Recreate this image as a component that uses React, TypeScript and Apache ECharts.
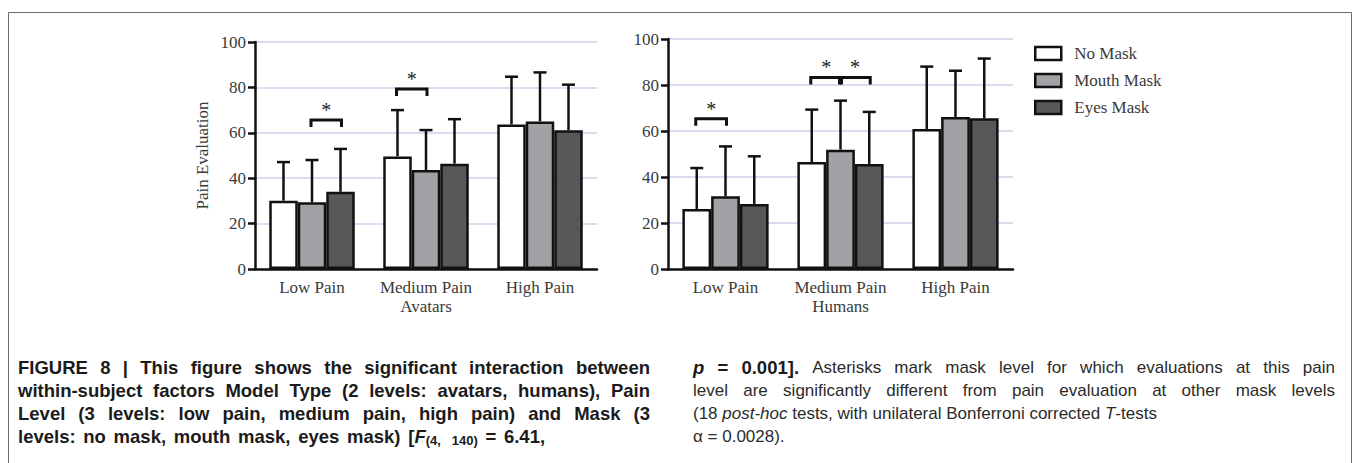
import React, { useEffect, useRef } from 'react';
import * as echarts from 'echarts';

// ---------- data ----------
const categories = ['Low Pain', 'Medium Pain', 'High Pain'];
const maskNames = ['No Mask', 'Mouth Mask', 'Eyes Mask'];
const yMin = 0;
const yMax = 100;
const yInterval = 20;

// Avatars: mean pain evaluation per mask (bars) and upper end of error bar
const avatarsNoMask = [30.1, 49.6, 63.7];
const avatarsMouthMask = [29.4, 43.6, 65.0];
const avatarsEyesMask = [34.0, 46.4, 61.1];
const avatarsNoMaskErrTop = [47.1, 70.0, 84.7];
const avatarsMouthMaskErrTop = [48.0, 61.2, 86.6];
const avatarsEyesMaskErrTop = [52.9, 66.0, 81.2];

// Humans
const humansNoMask = [26.1, 46.5, 60.9];
const humansMouthMask = [31.6, 51.9, 66.1];
const humansEyesMask = [28.3, 45.7, 65.5];
const humansNoMaskErrTop = [43.9, 69.3, 88.0];
const humansMouthMaskErrTop = [53.3, 73.2, 86.2];
const humansEyesMaskErrTop = [49.0, 68.3, 91.5];

// significance brackets: [category index, from mask index, to mask index, bracket level]
const avatarsBrackets = [
  [0, 1, 2, 65.6],
  [1, 0, 1, 79.3],
];
const humansBrackets = [
  [0, 0, 1, 65.3],
  [1, 0, 1, 83.3],
  [1, 1, 2, 83.3],
];

const xTitleLeft = 'Avatars';
const xTitleRight = 'Humans';
const yTitle = 'Pain Evaluation';

type Run = [string, string];
const captionLeft: { runs: Run[]; justify: boolean }[] = [
  { runs: [['FIGURE 8 | This figure shows the significant interaction between', 'b']], justify: true },
  { runs: [['within-subject factors Model Type (2 levels: avatars, humans), Pain', 'b']], justify: true },
  { runs: [['Level (3 levels: low pain, medium pain, high pain) and Mask (3', 'b']], justify: true },
  {
    runs: [
      ['levels: no mask, mouth mask, eyes mask) [', 'b'],
      ['F', 'bi'],
      ['(4,  140)', 'sub'],
      [' = 6.41,', 'b'],
    ],
    justify: false,
  },
];
const captionRight: { runs: Run[]; justify: boolean }[] = [
  {
    runs: [
      ['p', 'bi'],
      [' = 0.001].', 'b'],
      [' Asterisks mark mask level for which evaluations at this pain', 'r'],
    ],
    justify: true,
  },
  { runs: [['level are significantly different from pain evaluation at other mask levels', 'r']], justify: true },
  {
    runs: [
      ['(18 ', 'r'],
      ['post-hoc', 'i'],
      [' tests, with unilateral Bonferroni corrected ', 'r'],
      ['T', 'i'],
      ['-tests', 'r'],
    ],
    justify: false,
  },
  { runs: [['α = 0.0028).', 'r']], justify: false },
];

// ---------- styles ----------
const SERIF = '"Liberation Serif", "Times New Roman", serif';
const SANS = '"Liberation Sans", Arial, sans-serif';
const AXIS_TEXT = '#3a3a3a';
const INK = '#111111';
const barColors = ['#ffffff', '#a2a2a6', '#58585a'];
const CAT_GAP = 0.25;

const capStyles: Record<string, { size: number; weight: string; style: string; fill: string; dy: number; space: number }> = {
  b: { size: 18.5, weight: 'bold', style: 'normal', fill: '#1b1b1b', dy: 0, space: 1.5 },
  bi: { size: 18.5, weight: 'bold', style: 'italic', fill: '#1b1b1b', dy: 0, space: 1.5 },
  r: { size: 17, weight: 'normal', style: 'normal', fill: '#2b2b2b', dy: 0, space: 1 },
  i: { size: 17, weight: 'normal', style: 'italic', fill: '#2b2b2b', dy: 0, space: 1 },
  sub: { size: 13, weight: 'bold', style: 'normal', fill: '#1b1b1b', dy: 4, space: 1.5 },
};

function buildCaption(
  lines: { runs: Run[]; justify: boolean }[],
  x0: number,
  width: number,
  yStart: number,
  lineH: number
) {
  const canvas = document.createElement('canvas');
  const ctx = canvas.getContext('2d') as CanvasRenderingContext2D;
  const fontOf = (k: string) => {
    const s = capStyles[k];
    return `${s.style} ${s.weight} ${s.size}px ${SANS}`;
  };
  const measure = (t: string, k: string) => {
    ctx.font = fontOf(k);
    return ctx.measureText(t).width;
  };
  const els: any[] = [];
  lines.forEach((line, li) => {
    type Word = { parts: { t: string; s: string }[]; space: { s: string; n: number } | null };
    const words: Word[] = [];
    let cur: Word | null = null;
    let pending: { s: string; n: number } | null = null;
    for (const [text, s] of line.runs) {
      const re = /(\s+)|([^\s]+)/g;
      let m: RegExpExecArray | null;
      while ((m = re.exec(text))) {
        if (m[1]) {
          pending = { s, n: m[1].length };
          cur = null;
        } else {
          if (cur && !pending) cur.parts.push({ t: m[2], s });
          else {
            cur = { parts: [{ t: m[2], s }], space: pending };
            words.push(cur);
          }
          pending = null;
        }
      }
    }
    const wordW = words.map((w) => w.parts.reduce((a, p) => a + measure(p.t, p.s), 0));
    const total = wordW.reduce((a, b) => a + b, 0);
    const gap = words.length > 1 ? (width - total) / (words.length - 1) : 0;
    const y = yStart + li * lineH;
    let x = x0;
    words.forEach((w, wi) => {
      if (wi > 0) {
        if (line.justify) x += gap;
        else if (w.space) x += measure(' ', w.space.s) * w.space.n * capStyles[w.space.s].space;
      }
      w.parts.forEach((p) => {
        const st = capStyles[p.s];
        els.push({
          type: 'text',
          x,
          y: y + st.dy,
          silent: true,
          style: {
            text: p.t,
            fontSize: st.size,
            fontWeight: st.weight,
            fontStyle: st.style,
            fontFamily: SANS,
            fill: st.fill,
            align: 'left',
            verticalAlign: 'middle',
          },
        });
        x += measure(p.t, p.s);
      });
    });
  });
  return els;
}

function barSeries(name: string, idx: number, data: number[], grid: number) {
  return {
    type: 'bar',
    name,
    xAxisIndex: grid,
    yAxisIndex: grid,
    data,
    barGap: '0%',
    barCategoryGap: CAT_GAP * 100 + '%',
    itemStyle: { color: barColors[idx], borderColor: INK, borderWidth: 2.5 },
    emphasis: { disabled: true },
    z: 2,
  };
}

function errorSeries(grid: number, means: number[][], tops: number[][]) {
  const data: number[][] = [];
  means.forEach((arr, si) => arr.forEach((v, ci) => data.push([ci, si, v, tops[si][ci]])));
  return {
    type: 'custom',
    xAxisIndex: grid,
    yAxisIndex: grid,
    data,
    encode: { x: 0, y: [2, 3] },
    silent: true,
    z: 3,
    renderItem: (params: any, api: any) => {
      const ci = api.value(0);
      const si = api.value(1);
      const v = api.value(2);
      const e = api.value(3);
      const band = api.size([1, 0])[0];
      const barW = (band * (1 - CAT_GAP)) / 3;
      const p0 = api.coord([ci, v]);
      const p1 = api.coord([ci, e]);
      const x = p0[0] + (si - 1) * barW;
      const st = { stroke: INK, lineWidth: 2.5 };
      return {
        type: 'group',
        children: [
          { type: 'line', shape: { x1: x, y1: p0[1], x2: x, y2: p1[1] }, style: st },
          { type: 'line', shape: { x1: x - 6.5, y1: p1[1], x2: x + 6.5, y2: p1[1] }, style: st },
        ],
      };
    },
  };
}

function bracketSeries(grid: number, brackets: number[][]) {
  return {
    type: 'custom',
    xAxisIndex: grid,
    yAxisIndex: grid,
    data: brackets,
    encode: { x: 0, y: 3 },
    silent: true,
    z: 4,
    renderItem: (params: any, api: any) => {
      const ci = api.value(0);
      const a = api.value(1);
      const b = api.value(2);
      const v = api.value(3);
      const band = api.size([1, 0])[0];
      const barW = (band * (1 - CAT_GAP)) / 3;
      const c = api.coord([ci, v]);
      const x1 = c[0] + (a - 1) * barW - 1;
      const x2 = c[0] + (b - 1) * barW + 1;
      const y = c[1];
      return {
        type: 'group',
        children: [
          {
            type: 'polyline',
            shape: { points: [[x1, y + 7], [x1, y], [x2, y], [x2, y + 7]] },
            style: { stroke: INK, lineWidth: 3, fill: null },
          },
          {
            type: 'text',
            x: (x1 + x2) / 2,
            y: y - 10,
            style: {
              text: '*',
              fontSize: 20,
              fontFamily: SERIF,
              fill: '#222',
              align: 'center',
              verticalAlign: 'middle',
            },
          },
        ],
      };
    },
  };
}

function xAxis(grid: number, title: string) {
  return {
    type: 'category',
    gridIndex: grid,
    data: categories,
    name: title,
    nameLocation: 'middle',
    nameGap: 29,
    nameTextStyle: { fontFamily: SERIF, fontSize: 17, color: AXIS_TEXT },
    axisLine: { lineStyle: { color: INK, width: 2.5 } },
    axisTick: { alignWithLabel: true, length: 6, lineStyle: { color: INK, width: 2.5 } },
    axisLabel: { interval: 0, fontFamily: SERIF, fontSize: 17, color: AXIS_TEXT, margin: 10 },
    splitLine: { show: false },
  };
}

function yAxis(grid: number, title: string) {
  return {
    type: 'value',
    gridIndex: grid,
    min: yMin,
    max: yMax,
    interval: yInterval,
    name: title,
    nameLocation: 'middle',
    nameGap: 44,
    nameRotate: 90,
    nameTextStyle: { fontFamily: SERIF, fontSize: 17, color: AXIS_TEXT },
    axisLine: { show: true, lineStyle: { color: INK, width: 2.5 } },
    axisTick: { show: true, length: 7, lineStyle: { color: INK, width: 2.5 } },
    axisLabel: { fontFamily: SERIF, fontSize: 17, color: AXIS_TEXT, margin: 9 },
    splitLine: { show: true, lineStyle: { color: '#dcdcf0', width: 2 } },
  };
}

export default function App() {
  const ref = useRef<HTMLDivElement>(null);
  useEffect(() => {
    if (!ref.current) return;
    const chart = echarts.init(ref.current, undefined, { renderer: 'svg' });
    const caption = [
      ...buildCaption(captionLeft, 18, 632, 367, 23.3),
      ...buildCaption(captionRight, 693, 642, 367, 23.3),
    ];
    chart.setOption({
      animation: false,
      backgroundColor: '#ffffff',
      grid: [
        { left: 255, top: 42, width: 342, height: 227, containLabel: false },
        { left: 668, top: 39, width: 345, height: 230, containLabel: false },
      ],
      xAxis: [xAxis(0, xTitleLeft), xAxis(1, xTitleRight)],
      yAxis: [yAxis(0, yTitle), yAxis(1, '')],
      legend: {
        data: maskNames,
        orient: 'vertical',
        left: 1034,
        top: 45,
        padding: 0,
        icon: 'rect',
        itemWidth: 26,
        itemHeight: 13,
        itemGap: 10,
        selectedMode: false,
        itemStyle: { borderColor: INK, borderWidth: 2.5 },
        textStyle: { fontFamily: SERIF, fontSize: 17, color: AXIS_TEXT, lineHeight: 17, padding: [0, 0, 0, 8] },
      },
      series: [
        barSeries(maskNames[0], 0, avatarsNoMask, 0),
        barSeries(maskNames[1], 1, avatarsMouthMask, 0),
        barSeries(maskNames[2], 2, avatarsEyesMask, 0),
        barSeries(maskNames[0], 0, humansNoMask, 1),
        barSeries(maskNames[1], 1, humansMouthMask, 1),
        barSeries(maskNames[2], 2, humansEyesMask, 1),
        errorSeries(
          0,
          [avatarsNoMask, avatarsMouthMask, avatarsEyesMask],
          [avatarsNoMaskErrTop, avatarsMouthMaskErrTop, avatarsEyesMaskErrTop]
        ),
        errorSeries(
          1,
          [humansNoMask, humansMouthMask, humansEyesMask],
          [humansNoMaskErrTop, humansMouthMaskErrTop, humansEyesMaskErrTop]
        ),
        bracketSeries(0, avatarsBrackets),
        bracketSeries(1, humansBrackets),
      ],
      graphic: [
        {
          type: 'rect',
          silent: true,
          shape: { x: 8.5, y: 12.5, width: 1343, height: 520 },
          style: { fill: 'none', stroke: '#6a6a6a', lineWidth: 1 },
          z: -10,
        },
        ...caption,
      ],
    });
    return () => chart.dispose();
  }, []);
  return (
    <div
      ref={ref}
      style={{ position: 'absolute', left: 0, top: 0, width: 1355, height: 463, background: '#fff' }}
    />
  );
}
